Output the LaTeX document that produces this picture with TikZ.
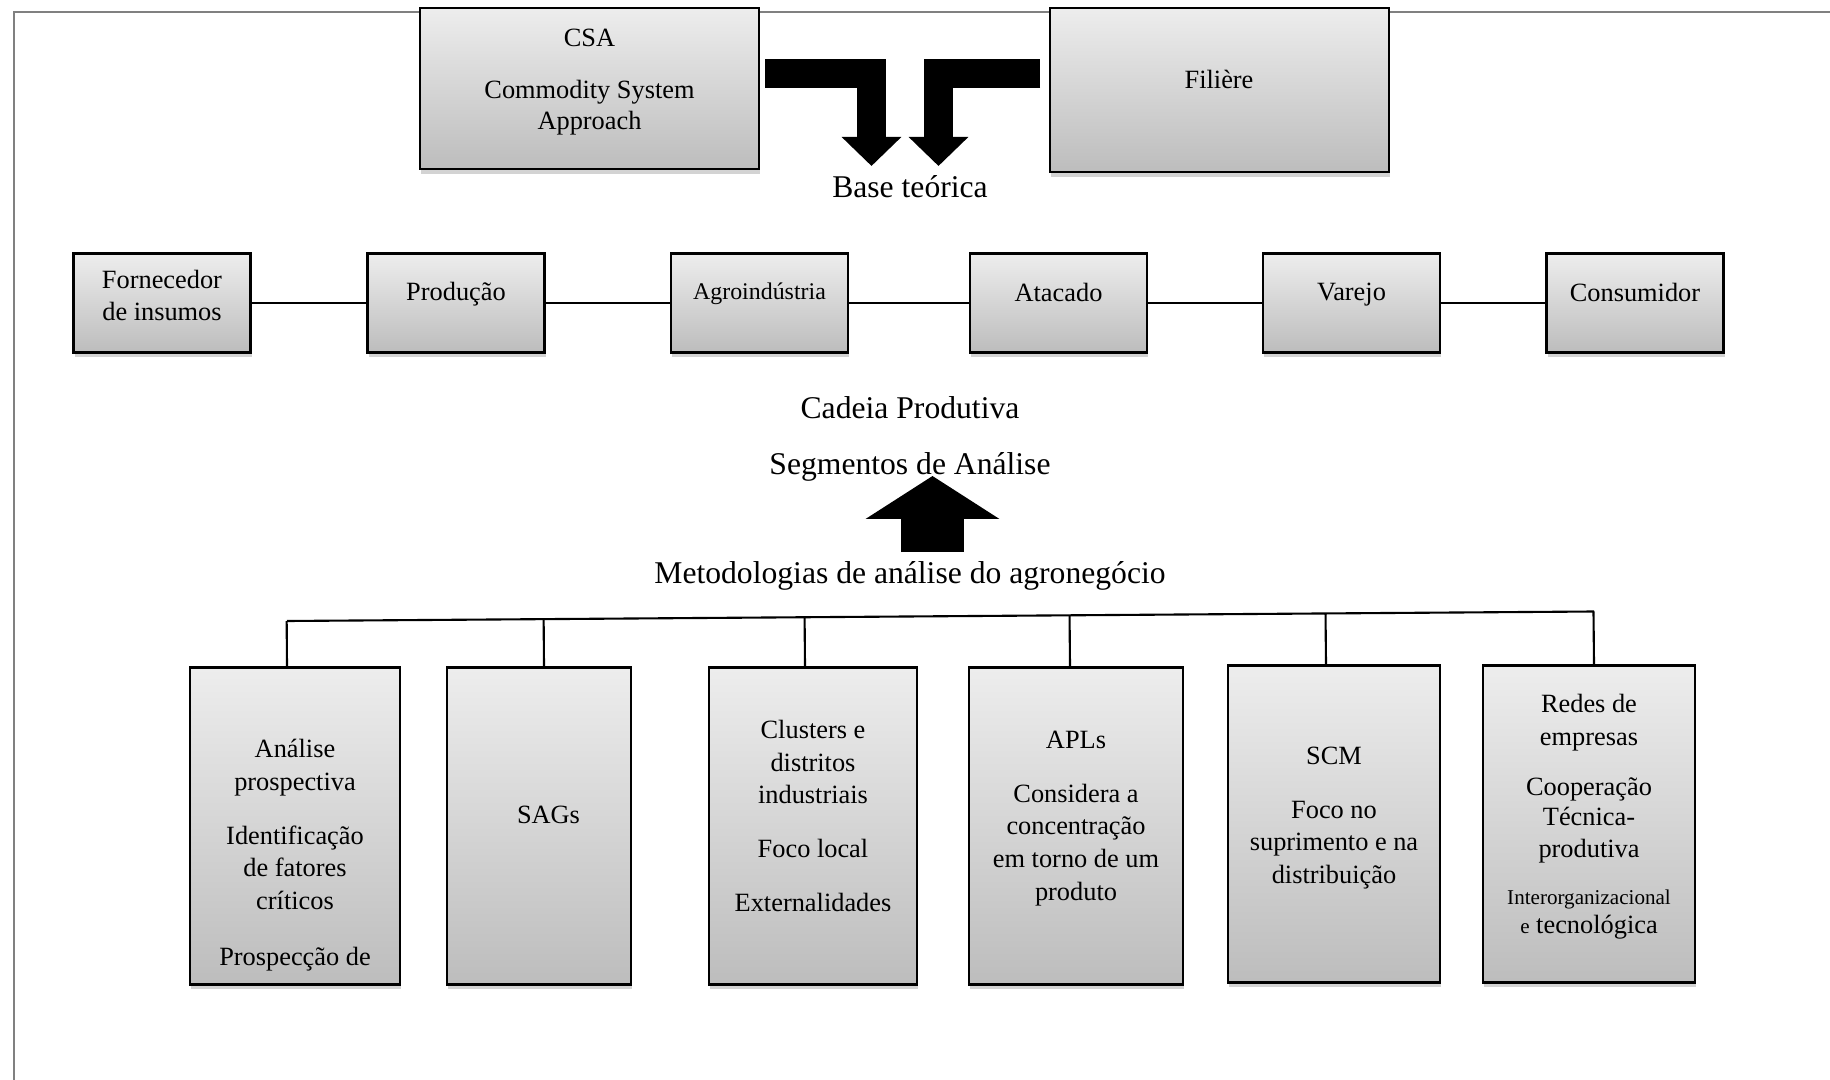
\documentclass[tikz,border=0pt]{standalone}
\usepackage{fontspec}
\setmainfont{Liberation Serif}
\usepackage{tikz}
\usetikzlibrary{arrows.meta, calc, shadows}

\begin{document}
\begin{tikzpicture}[
    box/.style={draw=black, line width=0.7pt, top color=gray!14, bottom color=gray!52, inner sep=0pt,
        drop shadow={shadow xshift=0.3pt, shadow yshift=-1.3pt, opacity=0.35}},
    chain/.style={box, minimum width=1.77cm, minimum height=0.99cm},
    col/.style={box, minimum height=3.17cm},
    txt/.style={font=\fontsize{7.5}{9.3}\selectfont, align=center, inner sep=0pt},
    small/.style={font=\fontsize{6.8}{8}\selectfont},
    lbl/.style={font=\fontsize{9}{11}\selectfont, inner sep=0pt},
    link/.style={line width=0.6pt},
    fat/.style={line width=0.29cm, line join=miter, -{Triangle[width=0.58cm, length=0.29cm]}},
    fatup/.style={line width=0.63cm, -{Triangle[width=1.32cm, length=0.43cm]}},
    frame/.style={draw=gray, line width=0.7pt}
]
\useasboundingbox (0,0) rectangle (18.3,-10.8);
\draw[frame] (0.14,-10.8) -- (0.14,-0.12) -- (18.3,-0.12);

\node[box, minimum width=3.39cm, minimum height=1.61cm] (csa) at (5.895,-0.885) {};
\node[txt] (csat) at (5.895,-0.82) {CSA\\[5.5pt]Commodity System\\[-0.6pt]Approach};
\node[box, minimum width=3.39cm, minimum height=1.64cm] (fil) at (12.195,-0.90) {};
\node[txt] (filt) at (12.19,-0.79) {Filière};
\node[lbl] (base) at (9.10,-1.87) {Base teórica};

\coordinate (csaout) at (7.65,-0.735);
\coordinate (filout) at (10.40,-0.735);
\coordinate (tipl) at (8.715,-1.66);
\coordinate (tipr) at (9.385,-1.66);
\draw[fat] (csaout) -| (tipl);
\draw[fat] (filout) -| (tipr);

\foreach \n/\x in {forn/1.62, prod/4.56, agro/7.595, atac/10.585, varj/13.515, cons/16.35}
    \node[chain] (\n) at (\x,-3.03) {};
\node[txt] (fornt) at ([yshift=0.075cm]forn) {Fornecedor\\de insumos};
\node[txt] (prodt) at ([yshift=0.09cm]prod) {Produção};
\node[txt, small] (agrot) at ([yshift=0.09cm]agro) {Agroindústria};
\node[txt] (atact) at ([yshift=0.11cm]atac) {Atacado};
\node[txt] (varjt) at ([yshift=0.08cm]varj) {Varejo};
\node[txt] (const) at ([yshift=0.11cm]cons) {Consumidor};
\draw[link] (forn) -- (prod);
\draw[link] (prod) -- (agro);
\draw[link] (agro) -- (atac);
\draw[link] (atac) -- (varj);
\draw[link] (varj) -- (cons);

\node[lbl] (cad) at (9.10,-4.08) {Cadeia Produtiva};
\node[lbl] (seg) at (9.10,-4.67) {Segmentos de Análise};
\node[lbl] (met) at (9.10,-5.76) {Metodologias de análise do agronegócio};
\coordinate (upbot) at (9.325,-5.52);
\coordinate (uptip) at (9.325,-4.76);
\draw[fatup] (upbot) -- (uptip);

\node[col, minimum width=2.10cm] (b1) at (2.95,-8.26) {};
\node[col, minimum width=1.84cm] (b2) at (5.39,-8.26) {};
\node[col, minimum width=2.075cm] (b3) at (8.13,-8.26) {};
\node[col, minimum width=2.145cm] (b4) at (10.76,-8.26) {};
\node[col, minimum width=2.12cm] (b5) at (13.34,-8.24) {};
\node[col, minimum width=2.115cm] (b6) at (15.89,-8.24) {};

\coordinate (barl) at (2.87,-6.21);
\coordinate (barr) at (15.94,-6.115);
\draw[link] (barl) -- (barr);
\foreach \b/\dx in {b1/-0.08, b2/0.05, b3/-0.08, b4/-0.06, b5/-0.08, b6/0.05} {
    \coordinate (drop) at ([xshift=\dx cm]\b.north);
    \draw[link] (drop) -- ($(barl)!(drop)!(barr)$);
}

\node[txt] (b1t) at ([yshift=-0.29cm]b1) {Análise\\prospectiva\\[6pt]Identificação\\de fatores\\críticos\\[6.5pt]Prospecção de};
\node[txt] (b2t) at ([xshift=0.095cm, yshift=0.11cm]b2) {SAGs};
\node[txt] (b3t) at ([yshift=0.10cm]b3) {Clusters e\\distritos\\industriais\\[6pt]Foco local\\[6pt]Externalidades};
\node[txt] (b4t) at ([yshift=0.075cm]b4) {APLs\\[6pt]Considera a\\concentração\\em torno de um\\produto};
\node[txt] (b5t) at ([yshift=0.06cm]b5) {SCM\\[6pt]Foco no\\suprimento e na\\distribuição};
\node[txt] (b6t) at ([yshift=0.07cm]b6) {Redes de\\empresas\\[5pt]Cooperação\\[-1pt]Técnica-\\produtiva\\[4pt]{\fontsize{6}{7}\selectfont Interorganizacional}\\[-1pt]{\fontsize{6}{7}\selectfont e} tecnológica};
\end{tikzpicture}
\end{document}
